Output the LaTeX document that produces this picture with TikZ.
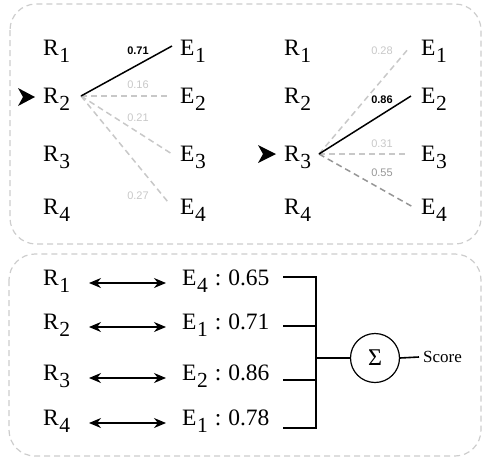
\documentclass[tikz,border=0pt]{standalone}
\usepackage{fontspec}
\setmainfont{Liberation Serif}
\newfontfamily\rmfam{Liberation Serif}
\newfontfamily\lsans{Liberation Sans}
\usetikzlibrary{arrows.meta}
\definecolor{boxgray}{RGB}{205,205,205}
\definecolor{lightln}{RGB}{200,200,200}
\definecolor{darkln}{RGB}{150,150,150}
\newcommand\lab[2]{#1\kern0.5pt\raisebox{-7.5pt}{\fontsize{21.5}{21.5}\selectfont #2}}
\newcommand\scr[2]{\lab{E}{#1}\hspace{7pt}:\hspace{7pt}#2}
\tikzset{
  txt/.style={font=\rmfam\fontsize{23.5}{23.5}\selectfont, inner sep=0pt, anchor=base west},
  wt/.style={font=\lsans\fontsize{11}{11}\selectfont, inner sep=0pt, text=lightln},
  wtb/.style={font=\lsans\bfseries\fontsize{11}{11}\selectfont, inner sep=0pt, text=black},
  panel/.style={draw=boxgray, line width=1.2pt, dash pattern=on 6pt off 4pt, rounded corners=26pt},
  weak/.style={draw=lightln, line width=1.5pt, dash pattern=on 6pt off 4pt},
  mid/.style={draw=darkln, line width=1.5pt, dash pattern=on 6pt off 4pt},
  strong/.style={draw=black, line width=1.5pt},
  pair/.style={draw=black, line width=1.1pt, {Stealth[length=12pt,width=10pt]}-{Stealth[length=12pt,width=10pt]}},
  brk/.style={draw=black, line width=1.6pt},
}
\begin{document}
\begin{tikzpicture}[x=1pt,y=-1pt]
\useasboundingbox (0,0) rectangle (483,459);
% panels
\draw[panel] (10,4) rectangle (481,244);
\draw[panel] (9,254) rectangle (481,456);

% ---------- top left ----------
\node[txt] (a1) at (43,55) {\lab{R}{1}};
\node[txt] (a2) at (43,103) {\lab{R}{2}};
\node[txt] (a3) at (43,161) {\lab{R}{3}};
\node[txt] (a4) at (43,214) {\lab{R}{4}};
\node[txt] (ae1) at (180,55) {\lab{E}{1}};
\node[txt] (ae2) at (180,103) {\lab{E}{2}};
\node[txt] (ae3) at (180,161) {\lab{E}{3}};
\node[txt] (ae4) at (180,214) {\lab{E}{4}};
\fill (35,97) -- (18,88) -- (23,97) -- (18,106) -- cycle;
\coordinate (as) at (81,96);
\coordinate (ae1p) at (172,46);
\coordinate (ae2p) at (167,96);
\coordinate (ae3p) at (172,154);
\coordinate (ae4p) at (168,202);
\draw[weak] (as) -- (ae2p);
\draw[weak] (as) -- (ae3p);
\draw[weak] (as) -- (ae4p);
\draw[strong] (as) -- (ae1p);
\node[wtb] (aw1) at (138,51) {0.71};
\node[wt] (aw2) at (138,84.5) {0.16};
\node[wt] (aw3) at (138,118) {0.21};
\node[wt] (aw4) at (138,195.5) {0.27};

% ---------- top right ----------
\node[txt] (b1) at (284,55) {\lab{R}{1}};
\node[txt] (b2) at (284,103) {\lab{R}{2}};
\node[txt] (b3) at (284,161) {\lab{R}{3}};
\node[txt] (b4) at (284,214) {\lab{R}{4}};
\node[txt] (be1) at (421,55) {\lab{E}{1}};
\node[txt] (be2) at (421,103) {\lab{E}{2}};
\node[txt] (be3) at (421,161) {\lab{E}{3}};
\node[txt] (be4) at (421,214) {\lab{E}{4}};
\fill (276,154) -- (258,145) -- (263,154) -- (258,163) -- cycle;
\coordinate (bs) at (319,154);
\coordinate (be1p) at (409,48);
\coordinate (be2p) at (411,96);
\coordinate (be3p) at (408,154);
\coordinate (be4p) at (413,207);
\draw[weak] (bs) -- (be1p);
\draw[weak] (bs) -- (be3p);
\draw[mid] (bs) -- (be4p);
\draw[strong] (bs) -- (be2p);
\node[wt] (bw1) at (382,51) {0.28};
\node[wtb] (bw2) at (382,100) {0.86};
\node[wt] (bw3) at (382,144) {0.31};
\node[wt, text=darkln] (bw4) at (382,172.5) {0.55};

% ---------- bottom ----------
\node[txt] (c1) at (43,285) {\lab{R}{1}};
\node[txt] (c2) at (43,329) {\lab{R}{2}};
\node[txt] (c3) at (43,380) {\lab{R}{3}};
\node[txt] (c4) at (43,425) {\lab{R}{4}};
\node[txt] (ce1) at (182,285) {\scr{4}{0.65}};
\node[txt] (ce2) at (182,329) {\scr{1}{0.71}};
\node[txt] (ce3) at (182,380) {\scr{2}{0.86}};
\node[txt] (ce4) at (182,425) {\scr{1}{0.78}};
\coordinate (p1l) at (89,283);  \coordinate (p1r) at (166,283);
\coordinate (p2l) at (89,327);  \coordinate (p2r) at (166,327);
\coordinate (p3l) at (89,378);  \coordinate (p3r) at (166,378);
\coordinate (p4l) at (89,423);  \coordinate (p4r) at (166,423);
\draw[pair] (p1l) -- (p1r);
\draw[pair] (p2l) -- (p2r);
\draw[pair] (p3l) -- (p3r);
\draw[pair] (p4l) -- (p4r);
\coordinate (q1) at (283,277);
\coordinate (q2) at (283,326);
\coordinate (q3) at (283,380);
\coordinate (q4) at (283,428);
\coordinate (j1) at (316,277);
\coordinate (j2) at (316,326);
\coordinate (j3) at (316,380);
\coordinate (j4) at (316,428);
\coordinate (jm) at (316,358);
\node[circle, draw, line width=1.2pt, minimum size=49pt, inner sep=0pt,
      font=\rmfam\fontsize{24}{24}\selectfont] (sig) at (375,358) {Σ};
\node[anchor=west, inner sep=0pt, font=\rmfam\fontsize{17}{17}\selectfont] (score) at (423,357) {Score};
\draw[brk] (q1) -- (j1) -- (j4) -- (q4);
\draw[brk] (q2) -- (j2);
\draw[brk] (q3) -- (j3);
\draw[brk] (jm) -- (sig.west);
\draw[brk] (sig.east) -- ([xshift=-4pt]score.west);
\end{tikzpicture}
\end{document}
